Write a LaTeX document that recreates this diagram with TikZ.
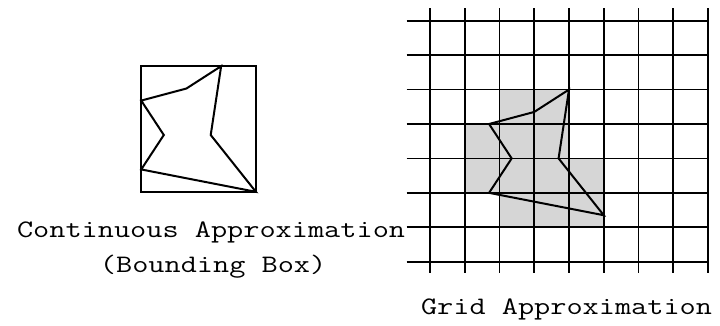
\documentclass[tikz,border=0pt]{standalone}
\tikzset{
  cell/.style={fill=gray!32, draw=none},
  gridline/.style={line width=1.7pt},
  outline/.style={line width=2pt, line join=miter},
  caption/.style={font=\fontsize{31.4}{36}\selectfont\ttfamily, anchor=base, inner sep=0pt}
}
\newcommand{\starpath}{(4,2) -- (3,2.65) -- (1.7,3) -- (2.35,4) -- (1.7,5) -- (5,5.65) -- (3.7,4) -- cycle}
\newcommand{\squash}[1]{\scalebox{1}[0.8]{#1}}

\begin{document}
\begin{tikzpicture}[x=34.75pt, y=-34.43pt]
  \useasboundingbox (-12.374,-0.601) rectangle (8.345,8.867);
  % continuous approximation
  \begin{scope}[shift={(-10.01,-0.68)}]
    \draw[gridline] (1.7,2) rectangle (5,5.65);
    \draw[outline] \starpath;
  \end{scope}
  % grid approximation
  \foreach \i/\j in {2/2,3/2,1/3,2/3,3/3,1/4,2/4,3/4,4/4,2/5,3/5,4/5}
    \fill[cell] (\i,\j) rectangle ++(1,1);
  \foreach \j in {0,...,7}
    \draw[gridline] (-0.67,\j) -- (8,\j);
  \foreach \i in {0,...,8}
    \draw[gridline] (\i,-0.36) -- (\i,7.34);
  \draw[outline] \starpath;
  \node[caption] (cont) at (-6.3,6.31) {\squash{Continuous Approximation}};
  \node[caption] (bbox) at (-6.24,7.30) {\squash{(Bounding Box)}};
  \node[caption] (grid) at (3.93,8.52) {\squash{Grid Approximation}};
\end{tikzpicture}
\end{document}
